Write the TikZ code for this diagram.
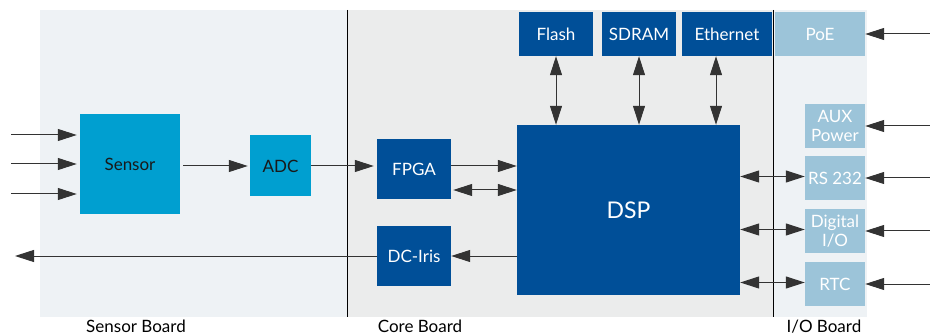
\documentclass[tikz,border=0pt]{standalone}
\usepackage{fontspec}
\setmainfont{Lato}
\usepackage{tikz}
\usetikzlibrary{arrows.meta, positioning, calc}
\definecolor{sensorbg}{HTML}{EEF2F5}
\definecolor{corebg}{HTML}{EBECEC}
\definecolor{sensorblue}{HTML}{009FD0}
\definecolor{coreblue}{HTML}{004F98}
\definecolor{iolight}{HTML}{9CC4D9}

\begin{document}
\begin{tikzpicture}[x=1pt, y=-1pt, >={Triangle[length=19pt, width=12pt]},
	box/.style={inner sep=0pt, align=center, font=\fontsize{17}{19}\selectfont},
	sensorbox/.style={box, fill=sensorblue, text=black!90},
	corebox/.style={box, fill=coreblue, text=white},
	iobox/.style={box, fill=iolight, text=white, minimum width=60, minimum height=44},
	link/.style={line width=1pt, draw=black!80},
	boardlabel/.style={anchor=base, font=\fontsize{17}{19}\selectfont}]
	\useasboundingbox (0,0) rectangle (930,334);

  % Boards
	\fill[sensorbg] (40,10) rectangle (347,317);
	\fill[corebg] (347,10) rectangle (773,317);
	\fill[sensorbg] (773,10) rectangle (867,317);
	\draw[line width=1pt] (347,10) -- (347,317);
	\draw[line width=1pt] (773,10) -- (773,317);

  % Nodes
	\node[sensorbox, minimum width=100, minimum height=100] (Sensor) at (130,164) {Sensor};
	\node[sensorbox, minimum width=61, minimum height=61] (ADC) at (280.5,166) {ADC};
	\node[corebox, minimum width=74, minimum height=60] (FPGA) at (414,169) {FPGA};
	\node[corebox, minimum width=74, minimum height=60] (Iris) at (414,256) {DC-Iris};
	\node[corebox, minimum width=223, minimum height=170, font=\fontsize{23}{26}\selectfont] (DSP) at (628.5,210) {DSP};
	\node[corebox, minimum width=74, minimum height=44] (Flash) at (556,34) {Flash};
	\node[corebox, minimum width=74, minimum height=44] (SDRAM) at (639,34) {SDRAM};
	\node[corebox, minimum width=90, minimum height=44] (Ethernet) at (727,34) {Ethernet};
	\node[iobox, minimum width=90] (PoE) at (820,34) {PoE};
	\node[iobox] (AUX) at (835,126) {AUX\\Power};
	\node[iobox] (RS) at (835,178) {RS 232};
	\node[iobox] (DIO) at (835,231) {Digital\\I/O};
	\node[iobox] (RTC) at (835,284) {RTC};

	\node[boardlabel] (sensorlbl) at (136,332) {Sensor Board};
	\node[boardlabel] (corelbl) at (420,332) {Core Board};
	\node[boardlabel] (iolbl) at (824,332) {I/O Board};

	\coordinate (ledge) at (11,0);
	\coordinate (redge) at (930,0);
	\coordinate (irisout) at (15,256);

  % Arrows
	\foreach \y in {135,164,194}
		\draw[link, ->] (ledge |- 0,\y) -- ([xshift=-3pt]Sensor.west |- 0,\y);
	\draw[link, ->] ([xshift=3pt]Sensor.east |- ADC.west) -- ([xshift=-2pt]ADC.west);
	\draw[link, ->] (ADC.east) -- ([xshift=-3pt]ADC.east -| FPGA.west);
	\draw[link, ->] (ADC.east -| FPGA.east) -- (ADC.east -| DSP.west);
	\draw[link, <->] ($(FPGA.east)+(2,21)$) -- ($(FPGA.east -| DSP.west)+(0,21)$);
	\draw[link, ->] (Iris.east -| DSP.west) -- (Iris.east);
	\draw[link, ->] (Iris.west) -- (irisout);

	\draw[link, <->] (Flash.south) -- (Flash.south |- DSP.north);
	\draw[link, <->] (SDRAM.south) -- (SDRAM.south |- DSP.north);
	\draw[link, <->] ($(Ethernet.south)+(-11,0)$) -- ($(Ethernet.south |- DSP.north)+(-11,0)$);

	\foreach \n in {RS,DIO,RTC}
		\draw[link, <->] ([yshift=1.5pt]\n.west -| DSP.east) -- ([yshift=1.5pt]\n.west);
	\foreach \n in {PoE,AUX,RS,DIO,RTC}
		\draw[link, ->] (redge |- \n.east) -- (\n.east);
\end{tikzpicture}
\end{document}
